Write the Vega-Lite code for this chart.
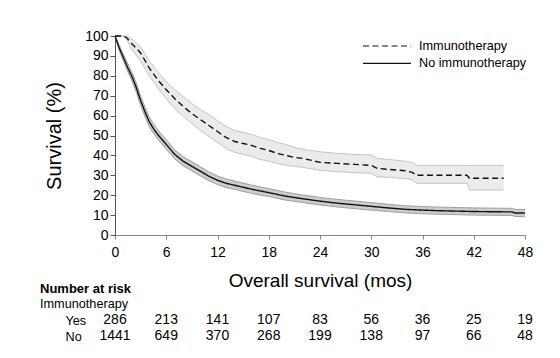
{
  "$schema": "https://vega.github.io/schema/vega-lite/v6.json",
  "padding": {"left": 40, "top": 29, "right": 5, "bottom": 5},
  "bounds": "flush",
  "spacing": 77,
  "config": {
    "font": "Liberation Sans",
    "view": {"stroke": null},
    "axis": {"grid": false, "labelColor": "#000", "titleColor": "#000", "titleFontWeight": "normal"}
  },
  "datasets": {
    "km": [
      {"g": "Immunotherapy", "t": 0, "s": 100, "lo": 100, "hi": 100},
      {"g": "Immunotherapy", "t": 1, "s": 100, "lo": 100, "hi": 100},
      {"g": "Immunotherapy", "t": 1.4, "s": 99, "lo": 98, "hi": 100},
      {"g": "Immunotherapy", "t": 2, "s": 96, "lo": 93, "hi": 98.5},
      {"g": "Immunotherapy", "t": 3, "s": 91.5, "lo": 87.5, "hi": 94.5},
      {"g": "Immunotherapy", "t": 4, "s": 84, "lo": 80, "hi": 87.5},
      {"g": "Immunotherapy", "t": 5, "s": 78, "lo": 74, "hi": 82},
      {"g": "Immunotherapy", "t": 6, "s": 73, "lo": 68.5, "hi": 77},
      {"g": "Immunotherapy", "t": 7, "s": 68.5, "lo": 63.5, "hi": 73},
      {"g": "Immunotherapy", "t": 8, "s": 64.5, "lo": 59.5, "hi": 69.5},
      {"g": "Immunotherapy", "t": 9, "s": 61, "lo": 56, "hi": 66},
      {"g": "Immunotherapy", "t": 10, "s": 58, "lo": 52.5, "hi": 63},
      {"g": "Immunotherapy", "t": 11, "s": 55, "lo": 49.5, "hi": 60.5},
      {"g": "Immunotherapy", "t": 12, "s": 52, "lo": 46.5, "hi": 57.5},
      {"g": "Immunotherapy", "t": 13, "s": 49, "lo": 43.5, "hi": 54.5},
      {"g": "Immunotherapy", "t": 14, "s": 47, "lo": 41.5, "hi": 52.5},
      {"g": "Immunotherapy", "t": 15, "s": 46, "lo": 40.5, "hi": 51.5},
      {"g": "Immunotherapy", "t": 16, "s": 45, "lo": 39.5, "hi": 50.5},
      {"g": "Immunotherapy", "t": 17, "s": 43.5, "lo": 38, "hi": 49},
      {"g": "Immunotherapy", "t": 18, "s": 42.5, "lo": 37, "hi": 48},
      {"g": "Immunotherapy", "t": 19, "s": 41, "lo": 36, "hi": 46.5},
      {"g": "Immunotherapy", "t": 20, "s": 40, "lo": 35, "hi": 45.5},
      {"g": "Immunotherapy", "t": 21, "s": 39, "lo": 34.5, "hi": 44},
      {"g": "Immunotherapy", "t": 22, "s": 38.5, "lo": 34, "hi": 43},
      {"g": "Immunotherapy", "t": 24, "s": 36.5, "lo": 32.5, "hi": 41.8},
      {"g": "Immunotherapy", "t": 26, "s": 36, "lo": 31.8, "hi": 41},
      {"g": "Immunotherapy", "t": 28, "s": 35.5, "lo": 31.3, "hi": 40.5},
      {"g": "Immunotherapy", "t": 30, "s": 35, "lo": 31, "hi": 40.2},
      {"g": "Immunotherapy", "t": 30.7, "s": 33.5, "lo": 29.3, "hi": 38.5},
      {"g": "Immunotherapy", "t": 32, "s": 33, "lo": 29, "hi": 38},
      {"g": "Immunotherapy", "t": 34, "s": 32.3, "lo": 28.3, "hi": 37},
      {"g": "Immunotherapy", "t": 34.8, "s": 31.5, "lo": 27.8, "hi": 36.5},
      {"g": "Immunotherapy", "t": 35.3, "s": 30, "lo": 26, "hi": 35},
      {"g": "Immunotherapy", "t": 41.2, "s": 30, "lo": 26, "hi": 35},
      {"g": "Immunotherapy", "t": 41.5, "s": 28.5, "lo": 22.6, "hi": 35},
      {"g": "Immunotherapy", "t": 45.5, "s": 28.5, "lo": 22.6, "hi": 35},
      {"g": "No immunotherapy", "t": 0, "s": 100, "lo": 100, "hi": 100},
      {"g": "No immunotherapy", "t": 0.5, "s": 94, "lo": 92.7, "hi": 95.3},
      {"g": "No immunotherapy", "t": 1, "s": 89, "lo": 87.3, "hi": 90.7},
      {"g": "No immunotherapy", "t": 1.5, "s": 84, "lo": 82, "hi": 86},
      {"g": "No immunotherapy", "t": 2, "s": 79.5, "lo": 77.3, "hi": 81.7},
      {"g": "No immunotherapy", "t": 2.5, "s": 74, "lo": 71.7, "hi": 76.3},
      {"g": "No immunotherapy", "t": 3, "s": 67.5, "lo": 65.2, "hi": 69.8},
      {"g": "No immunotherapy", "t": 3.5, "s": 62, "lo": 59.6, "hi": 64.4},
      {"g": "No immunotherapy", "t": 4, "s": 57, "lo": 54.6, "hi": 59.4},
      {"g": "No immunotherapy", "t": 4.5, "s": 53.5, "lo": 51.1, "hi": 55.9},
      {"g": "No immunotherapy", "t": 5, "s": 50.5, "lo": 48.1, "hi": 52.9},
      {"g": "No immunotherapy", "t": 5.5, "s": 48, "lo": 45.6, "hi": 50.4},
      {"g": "No immunotherapy", "t": 6, "s": 45.5, "lo": 43.1, "hi": 47.9},
      {"g": "No immunotherapy", "t": 7, "s": 40.5, "lo": 38.2, "hi": 42.8},
      {"g": "No immunotherapy", "t": 8, "s": 37, "lo": 34.7, "hi": 39.3},
      {"g": "No immunotherapy", "t": 9, "s": 34.5, "lo": 32.2, "hi": 36.8},
      {"g": "No immunotherapy", "t": 10, "s": 32, "lo": 29.7, "hi": 34.3},
      {"g": "No immunotherapy", "t": 11, "s": 29.5, "lo": 27.3, "hi": 31.7},
      {"g": "No immunotherapy", "t": 12, "s": 27.5, "lo": 25.3, "hi": 29.7},
      {"g": "No immunotherapy", "t": 13, "s": 26, "lo": 23.8, "hi": 28.2},
      {"g": "No immunotherapy", "t": 14, "s": 25, "lo": 22.9, "hi": 27.1},
      {"g": "No immunotherapy", "t": 15, "s": 24, "lo": 21.9, "hi": 26.1},
      {"g": "No immunotherapy", "t": 16, "s": 23, "lo": 20.9, "hi": 25.1},
      {"g": "No immunotherapy", "t": 18, "s": 21.3, "lo": 19.3, "hi": 23.3},
      {"g": "No immunotherapy", "t": 20, "s": 19.5, "lo": 17.5, "hi": 21.5},
      {"g": "No immunotherapy", "t": 22, "s": 18.2, "lo": 16.3, "hi": 20.1},
      {"g": "No immunotherapy", "t": 24, "s": 17, "lo": 15.1, "hi": 18.9},
      {"g": "No immunotherapy", "t": 26, "s": 16, "lo": 14.1, "hi": 17.9},
      {"g": "No immunotherapy", "t": 28, "s": 15.2, "lo": 13.3, "hi": 17.1},
      {"g": "No immunotherapy", "t": 30, "s": 14.4, "lo": 12.5, "hi": 16.3},
      {"g": "No immunotherapy", "t": 32, "s": 13.6, "lo": 11.8, "hi": 15.4},
      {"g": "No immunotherapy", "t": 34, "s": 12.9, "lo": 11.1, "hi": 14.7},
      {"g": "No immunotherapy", "t": 36, "s": 12.5, "lo": 10.7, "hi": 14.3},
      {"g": "No immunotherapy", "t": 38, "s": 12.2, "lo": 10.4, "hi": 14},
      {"g": "No immunotherapy", "t": 40, "s": 12, "lo": 10.2, "hi": 13.8},
      {"g": "No immunotherapy", "t": 42, "s": 11.8, "lo": 10, "hi": 13.6},
      {"g": "No immunotherapy", "t": 44, "s": 11.7, "lo": 9.9, "hi": 13.5},
      {"g": "No immunotherapy", "t": 46.5, "s": 11.6, "lo": 9.8, "hi": 13.4},
      {"g": "No immunotherapy", "t": 46.8, "s": 11.1, "lo": 9.3, "hi": 12.9},
      {"g": "No immunotherapy", "t": 48, "s": 11, "lo": 9.2, "hi": 12.8}
    ],
    "risk": [
      {"row": "Yes", "t": 0, "n": 286}, {"row": "Yes", "t": 6, "n": 213}, {"row": "Yes", "t": 12, "n": 141},
      {"row": "Yes", "t": 18, "n": 107}, {"row": "Yes", "t": 24, "n": 83}, {"row": "Yes", "t": 30, "n": 56},
      {"row": "Yes", "t": 36, "n": 36}, {"row": "Yes", "t": 42, "n": 25}, {"row": "Yes", "t": 48, "n": 19},
      {"row": "No", "t": 0, "n": 1441}, {"row": "No", "t": 6, "n": 649}, {"row": "No", "t": 12, "n": 370},
      {"row": "No", "t": 18, "n": 268}, {"row": "No", "t": 24, "n": 199}, {"row": "No", "t": 30, "n": 138},
      {"row": "No", "t": 36, "n": 97}, {"row": "No", "t": 42, "n": 66}, {"row": "No", "t": 48, "n": 48}
    ]
  },
  "vconcat": [
    {
      "width": 410,
      "height": 199,
      "data": {"name": "km"},
      "encoding": {
        "x": {
          "field": "t", "type": "quantitative",
          "scale": {"domain": [0, 48], "nice": false},
          "axis": {
            "values": [0, 6, 12, 18, 24, 30, 36, 42, 48],
            "title": "Overall survival (mos)",
            "titleFontSize": 19, "titlePadding": 12,
            "labelFontSize": 14, "labelPadding": 6, "tickSize": 4,
            "domainColor": "#888", "tickColor": "#888", "labelFlush": false
          }
        },
        "y": {
          "field": "s", "type": "quantitative",
          "scale": {"domain": [0, 100], "nice": false},
          "axis": {
            "values": [0, 10, 20, 30, 40, 50, 60, 70, 80, 90, 100],
            "title": "Survival (%)",
            "titleFontSize": 20, "titlePadding": 20,
            "labelFontSize": 14, "labelPadding": 2, "tickSize": 5,
            "labelOverlap": false,
            "domainColor": "#555", "tickColor": "#555"
          }
        }
      },
      "layer": [
        {
          "transform": [{"filter": "datum.g == 'Immunotherapy'"}],
          "mark": {"type": "area", "color": "#ebebeb", "opacity": 1},
          "encoding": {"y": {"field": "lo", "type": "quantitative"}, "y2": {"field": "hi"}}
        },
        {
          "transform": [{"filter": "datum.g == 'Immunotherapy'"}],
          "mark": {"type": "line", "color": "#c4c4c4", "strokeWidth": 1},
          "encoding": {"y": {"field": "hi", "type": "quantitative"}}
        },
        {
          "transform": [{"filter": "datum.g == 'Immunotherapy'"}],
          "mark": {"type": "line", "color": "#c4c4c4", "strokeWidth": 1},
          "encoding": {"y": {"field": "lo", "type": "quantitative"}}
        },
        {
          "transform": [{"filter": "datum.g == 'No immunotherapy'"}],
          "mark": {"type": "area", "color": "#cccccc", "opacity": 1},
          "encoding": {"y": {"field": "lo", "type": "quantitative"}, "y2": {"field": "hi"}}
        },
        {
          "transform": [{"filter": "datum.g == 'No immunotherapy'"}],
          "mark": {"type": "line", "color": "#a0a0a0", "strokeWidth": 1},
          "encoding": {"y": {"field": "hi", "type": "quantitative"}}
        },
        {
          "transform": [{"filter": "datum.g == 'No immunotherapy'"}],
          "mark": {"type": "line", "color": "#a0a0a0", "strokeWidth": 1},
          "encoding": {"y": {"field": "lo", "type": "quantitative"}}
        },
        {
          "mark": {"type": "line", "color": "#111", "strokeWidth": 1.4},
          "encoding": {
            "strokeDash": {"field": "g", "type": "nominal",
              "scale": {"domain": ["Immunotherapy", "No immunotherapy"], "range": [[6, 3.5], [1, 0]]},
              "legend": {
                "title": null, "orient": "none", "legendX": 247, "legendY": 2,
                "symbolType": "stroke", "symbolSize": 2304, "symbolStrokeWidth": 1.2,
                "symbolStrokeColor": "#111", "labelFontSize": 12.7, "labelColor": "#000",
                "labelOffset": 7, "clipHeight": 16, "rowPadding": 1.3
              }
            }
          }
        }
      ]
    },
    {
      "width": 410,
      "height": 32,
      "data": {"name": "risk"},
      "title": {
        "text": "Number at risk", "subtitle": "Immunotherapy",
        "anchor": "start", "frame": "group", "dx": -75, "offset": 1,
        "fontSize": 13, "fontWeight": "bold", "color": "#000",
        "subtitleFontSize": 12.7, "subtitleFontWeight": "normal", "subtitleColor": "#000",
        "subtitlePadding": 2, "font": "Liberation Sans", "subtitleFont": "Liberation Sans"
      },
      "mark": {"type": "text", "fontSize": 14, "color": "#000"},
      "encoding": {
        "x": {"field": "t", "type": "quantitative", "scale": {"domain": [0, 48], "nice": false}, "axis": null},
        "y": {"field": "row", "type": "nominal", "sort": ["Yes", "No"],
          "axis": {"title": null, "ticks": false, "tickSize": 0, "domain": false, "labelAlign": "left", "labelPadding": 50, "labelFontSize": 12.7}},
        "text": {"field": "n", "type": "quantitative"}
      }
    }
  ]
}
